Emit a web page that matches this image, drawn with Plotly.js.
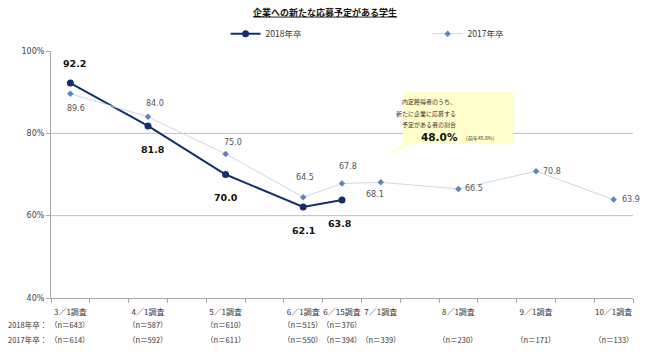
<!DOCTYPE html>
<html>
<head>
<meta charset="utf-8">
<script src="https://cdn.plot.ly/plotly-3.0.1.min.js"></script>
<style>html,body{margin:0;padding:0;background:#fff;}</style>
</head>
<body>
<div id="chart" style="width:650px;height:356px;"></div>
<script>
// ---- data ----
const surveys = ['3／1調査','4／1調査','5／1調査','6／1調査','6／15調査','7／1調査','8／1調査','9／1調査','10／1調査'];
// slot of each survey on the (half-month) category axis
const surveySlot = [0, 2, 4, 6, 7, 8, 10, 12, 14];
const y2018 = [92.2, 81.8, 70.0, 62.1, 63.8];
const y2017 = [89.6, 84.0, 75.0, 64.5, 67.8, 68.1, 66.5, 70.8, 63.9];
const n2018 = [643, 587, 610, 515, 376, null, null, null, null];
const n2017 = [614, 592, 611, 550, 394, 339, 230, 171, 133];
const yTicks = [40, 60, 80, 100];
const gridVals = [60, 80];

// ---- label placement (pixel shifts) ----
const off2018 = [[4,20],[5,-24],[0,-23],[0,-23],[-2,-23]];
const off2017 = [[6,-15],[7,13],[7,11],[2,20],[6,17],[-6,-12],[16,0],[16,0],[17,0]];

const jp = '"Noto Sans CJK JP", "Noto Sans", sans-serif';
const num = '"DejaVu Sans", Verdana, sans-serif';

const x2018 = surveySlot.slice(0, y2018.length);
const x2017 = surveySlot.slice(0, y2017.length);

const traces = [
  {x: x2018, y: y2018, name: '2018年卒', type: 'scatter', mode: 'lines+markers',
   line: {color: '#13306A', width: 2}, marker: {symbol: 'circle', size: 7, color: '#13306A'}},
  {x: x2017, y: y2017, name: '2017年卒', type: 'scatter', mode: 'lines+markers',
   line: {color: '#CCD8E8', width: 1}, marker: {symbol: 'diamond', size: 5, color: '#5B86BA'}}
];

const ann = [];
y2018.forEach((v, i) => ann.push({x: x2018[i], y: v, xref: 'x', yref: 'y', text: '<b>' + v.toFixed(1) + '</b>',
  showarrow: false, xshift: off2018[i][0], yshift: off2018[i][1], font: {family: num, size: 9.5, color: '#111'}}));
y2017.forEach((v, i) => ann.push({x: x2017[i], y: v, xref: 'x', yref: 'y', text: v.toFixed(1),
  showarrow: false, xshift: off2017[i][0], yshift: off2017[i][1], font: {family: num, size: 8, color: '#555'}}));
surveys.forEach((s, i) => {
  if (n2018[i] !== null) ann.push({x: surveySlot[i], y: -0.109, xref: 'x', yref: 'paper', yanchor: 'middle',
    text: '（n＝' + n2018[i] + '）', showarrow: false, font: {family: jp, size: 7.5, color: '#333'}});
  ann.push({x: surveySlot[i], y: -0.170, xref: 'x', yref: 'paper', yanchor: 'middle',
    text: '（n＝' + n2017[i] + '）', showarrow: false, font: {family: jp, size: 7.5, color: '#333'}});
});
ann.push({x: -0.004, y: -0.109, xref: 'paper', yref: 'paper', xanchor: 'right', yanchor: 'middle',
  text: '2018年卒：', showarrow: false, font: {family: jp, size: 7.5, color: '#333'}});
ann.push({x: -0.004, y: -0.170, xref: 'paper', yref: 'paper', xanchor: 'right', yanchor: 'middle',
  text: '2017年卒：', showarrow: false, font: {family: jp, size: 7.5, color: '#333'}});

// callout text
const boxCx = 0.70;
ann.push({x: boxCx, y: 0.795, xref: 'paper', yref: 'paper', yanchor: 'middle', showarrow: false,
  text: '内定獲得者のうち、', font: {family: jp, size: 6, color: '#333'}});
ann.push({x: boxCx, y: 0.748, xref: 'paper', yref: 'paper', yanchor: 'middle', showarrow: false,
  text: '新たに企業に応募する', font: {family: jp, size: 6, color: '#333'}});
ann.push({x: boxCx, y: 0.703, xref: 'paper', yref: 'paper', yanchor: 'middle', showarrow: false,
  text: '予定がある者の割合', font: {family: jp, size: 6, color: '#333'}});
ann.push({x: 0.702, y: 0.652, xref: 'paper', yref: 'paper', xanchor: 'right', yanchor: 'middle', showarrow: false,
  text: '<b>48.0%</b>', font: {family: num, size: 10.5, color: '#111'}});
ann.push({x: 0.705, y: 0.648, xref: 'paper', yref: 'paper', xanchor: 'left', yanchor: 'middle', showarrow: false,
  text: '（前年45.8%）', font: {family: jp, size: 5, color: '#333'}});

const shapes = gridVals.map(g => ({type: 'line', xref: 'paper', yref: 'y', x0: 0, x1: 1, y0: g, y1: g,
  line: {color: '#BFBFBF', width: 1}, layer: 'below'}));
shapes.push({type: 'rect', xref: 'paper', yref: 'paper', x0: 0.605, x1: 0.794, y0: 0.625, y1: 0.834,
  fillcolor: '#FFFFCC', line: {width: 0}, layer: 'above'});
shapes.push({type: 'path', xref: 'paper', yref: 'paper',
  path: 'M 0.608 0.63 L 0.630 0.63 L 0.577 0.580 Z', fillcolor: '#FFFFCC', line: {width: 0}, layer: 'above'});

const layout = {
  width: 650, height: 356,
  margin: {l: 51, r: 17, t: 51, b: 58},
  paper_bgcolor: '#fff', plot_bgcolor: '#fff',
  title: {text: '<b><u>企業への新たな応募予定がある学生</u></b>', x: 0.5, xanchor: 'center', y: 0.965, yanchor: 'middle',
    font: {family: jp, size: 9, color: '#111'}},
  showlegend: true,
  legend: {orientation: 'h', x: 0.30, xanchor: 'left', y: 1.07, yanchor: 'middle',
    entrywidth: 157, entrywidthmode: 'pixels', font: {family: jp, size: 8.5, color: '#333'}, bgcolor: 'rgba(0,0,0,0)'},
  xaxis: {range: [-0.5, 14.5], tickvals: surveySlot, ticktext: surveys, ticks: '', tickangle: 0, automargin: false,
    ticklabelstandoff: 6,
    showline: true, linecolor: '#A6A6A6', linewidth: 1, showgrid: false, zeroline: false,
    tickfont: {family: jp, size: 8, color: '#333'},
    minor: {tick0: -0.5, dtick: 1, ticks: 'outside', ticklen: 4, tickcolor: '#A6A6A6', showgrid: false}},
  yaxis: {range: [40, 100], tickvals: yTicks, ticktext: yTicks.map(v => v + '%'), ticks: 'outside', ticklen: 4,
    tickcolor: '#A6A6A6', showline: true, linecolor: '#A6A6A6', showgrid: false, zeroline: false, automargin: false,
    tickfont: {family: num, size: 8, color: '#444'}},
  annotations: ann,
  shapes: shapes
};

Plotly.newPlot('chart', traces, layout, {staticPlot: true, displayModeBar: false});
</script>
</body>
</html>
